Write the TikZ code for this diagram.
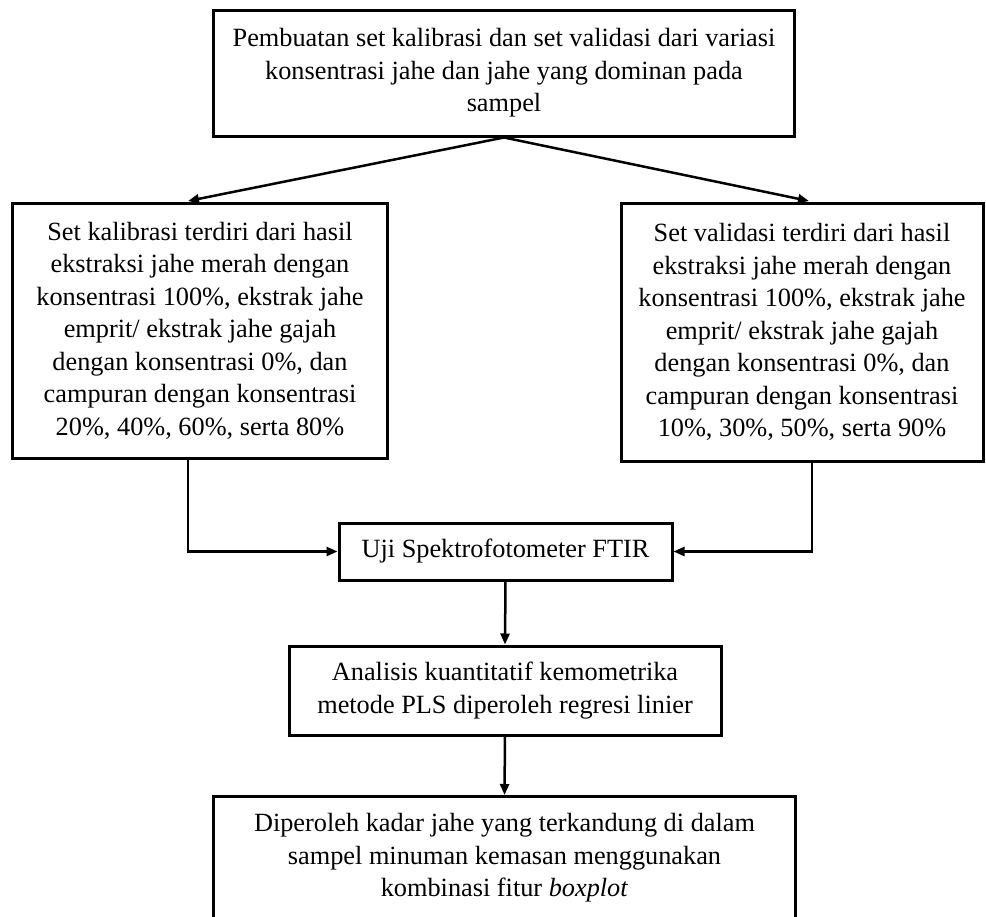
\documentclass[tikz,border=0pt]{standalone}
\usepackage{fontspec}
\setmainfont{Liberation Serif}
\usetikzlibrary{arrows.meta}
\tikzset{
  box/.style={draw=black, line width=3bp, align=center, inner sep=0pt,
    font=\fontsize{26.3bp}{32.5bp}\selectfont},
  arr/.style={draw=black, line width=2.5bp, -{Triangle[length=11bp,width=9bp]}}
}
\begin{document}
\begin{tikzpicture}[x=1bp,y=-1bp]
\clip (0,0) rectangle (986,917);
\fill[white] (0,0) rectangle (986,917);
\node[box, minimum width=580bp, minimum height=126bp] (top) at (504,73)
  {Pembuatan set kalibrasi dan set validasi dari variasi\\konsentrasi jahe dan jahe yang dominan pada\\sampel};
\node[box, minimum width=374bp, minimum height=255bp] (left) at (200,330.5)
  {Set kalibrasi terdiri dari hasil\\ekstraksi jahe merah dengan\\konsentrasi 100\%, ekstrak jahe\\emprit/ ekstrak jahe gajah\\dengan konsentrasi 0\%, dan\\campuran dengan konsentrasi\\20\%, 40\%, 60\%, serta 80\%};
\node[box, minimum width=362bp, minimum height=258bp] (right) at (802,332)
  {Set validasi terdiri dari hasil\\ekstraksi jahe merah dengan\\konsentrasi 100\%, ekstrak jahe\\emprit/ ekstrak jahe gajah\\dengan konsentrasi 0\%, dan\\campuran dengan konsentrasi\\10\%, 30\%, 50\%, serta 90\%};
\node[box, minimum width=333bp, minimum height=57bp] (uji) at (505.5,551.5)
  {Uji Spektrofotometer FTIR};
\node[box, minimum width=432bp, minimum height=89bp] (anal) at (505,690.5)
  {Analisis kuantitatif kemometrika\\metode PLS diperoleh regresi linier};
\node[box, minimum width=581bp, minimum height=150bp, anchor=north] (res) at (504.5,795)
  {Diperoleh kadar jahe yang terkandung di dalam\\sampel minuman kemasan menggunakan\\kombinasi fitur \textit{boxplot}\\\mbox{}};
\coordinate (lx) at (188,0);
\coordinate (rx) at (812,0);
\coordinate (ltip) at (188,201);
\coordinate (rtip) at (809,201);
\draw[arr] (top.south) -- (ltip);
\draw[arr] (top.south) -- (rtip);
\draw[arr] (left.south -| lx) |- (uji.west);
\draw[arr] (right.south -| rx) |- (uji.east);
\draw[arr] (uji.south) -- (anal.north);
\draw[arr] (anal.south) -- (res.north);
\end{tikzpicture}
\end{document}
